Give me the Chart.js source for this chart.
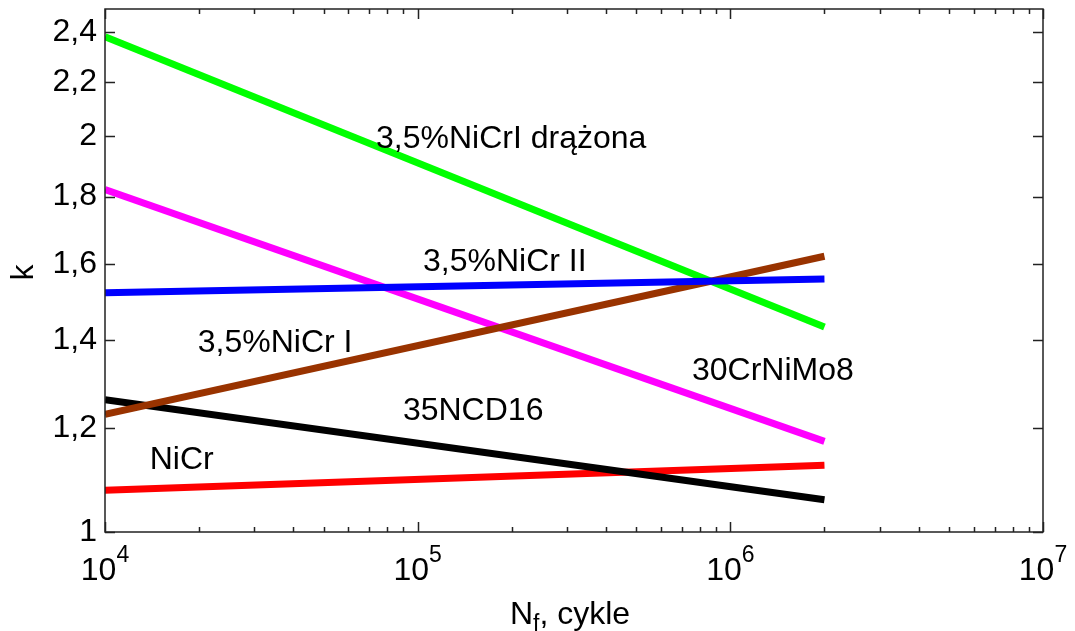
<!DOCTYPE html>
<html>
<head>
<meta charset="utf-8">
<script src="https://cdn.jsdelivr.net/npm/chart.js@4.4.1/dist/chart.umd.min.js"></script>
<style>
  body { margin: 0; background: #fff; }
  #wrap { width: 1075px; height: 631px; position: relative; }
</style>
</head>
<body>
<div id="wrap"><canvas id="wykres"></canvas></div>
<script>
// === DANE ===
// every line runs from 1e4 to 2e6 cycles (straight in log-log)
const cykle = [1e4, 2e6];
const kDrazona = [2.381, 1.432];   // zielona
const kNiCrII = [1.521, 1.558];    // niebieska
const kNiCrI = [1.822, 1.172];     // fioletowa
const k30CrNiMo8 = [1.229, 1.621]; // brazowa
const k35NCD16 = [1.261, 1.058];   // czarna
const kNiCr = [1.076, 1.124];      // czerwona

const yTicks = [1, 1.2, 1.4, 1.6, 1.8, 2, 2.2, 2.4];
const xTicks = [1e4, 1e5, 1e6, 1e7];

// podpisy na wykresie (wspolrzedne w jednostkach danych)
const podpisy = ['3,5%NiCrI drążona', '3,5%NiCr II', '3,5%NiCr I', '30CrNiMo8', '35NCD16', 'NiCr'];
const podpisyX = [7.36e4, 1.04e5, 1.98e4, 7.54e5, 8.97e4, 1.39e4];
const podpisyY = [1.961, 1.581, 1.370, 1.305, 1.216, 1.116];

const FONT = '"Liberation Sans", Arial, Helvetica, sans-serif';

function seria(vals, color) {
  return {
    data: cykle.map((c, i) => ({ x: c, y: vals[i] })),
    borderColor: color,
    backgroundColor: color,
    borderWidth: 7,
    borderCapStyle: 'butt',
    pointRadius: 0,
    tension: 0,
    clip: 0
  };
}

// === RYSOWANIE RAMKI, TICKOW I TEKSTOW ===
const rysunek = {
  id: 'rysunek',
  afterDatasetsDraw(chart) {
    const { ctx, chartArea: a, scales: { x, y } } = chart;
    ctx.save();

    // ramka
    ctx.strokeStyle = '#222';
    ctx.lineWidth = 1.5;
    ctx.strokeRect(a.left, a.top, a.right - a.left, a.bottom - a.top);

    ctx.beginPath();
    yTicks.forEach(v => {
      const py = Math.round(y.getPixelForValue(v)) + 0.5;
      ctx.moveTo(a.left, py); ctx.lineTo(a.left + 10, py);
      ctx.moveTo(a.right, py); ctx.lineTo(a.right - 10, py);
    });
    xTicks.forEach((v, i) => {
      const px = Math.round(x.getPixelForValue(v)) + 0.5;
      ctx.moveTo(px, a.bottom); ctx.lineTo(px, a.bottom - 10);
      ctx.moveTo(px, a.top); ctx.lineTo(px, a.top + 10);
      if (i < xTicks.length - 1) {
        for (let m = 2; m <= 9; m++) {
          const pm = Math.round(x.getPixelForValue(v * m)) + 0.5;
          ctx.moveTo(pm, a.bottom); ctx.lineTo(pm, a.bottom - 5);
          ctx.moveTo(pm, a.top); ctx.lineTo(pm, a.top + 5);
        }
      }
    });
    ctx.stroke();

    ctx.fillStyle = '#000';
    ctx.textBaseline = 'alphabetic';

    // etykiety osi x: 10^n
    xTicks.forEach(v => {
      const exp = String(Math.round(Math.log10(v)));
      ctx.font = '32px ' + FONT;
      const wBase = ctx.measureText('10').width;
      ctx.font = '23px ' + FONT;
      const wSup = ctx.measureText(exp).width;
      const start = x.getPixelForValue(v) - (wBase + wSup) / 2;
      ctx.textAlign = 'left';
      ctx.font = '32px ' + FONT;
      ctx.fillText('10', start, a.bottom + 48);
      ctx.font = '23px ' + FONT;
      ctx.fillText(exp, start + wBase, a.bottom + 30);
    });

    // tytul osi x: N_f, cykle
    ctx.font = '32px ' + FONT;
    const wN = ctx.measureText('N').width;
    const wRest = ctx.measureText(', cykle').width;
    ctx.font = '23px ' + FONT;
    const wF = ctx.measureText('f').width;
    let tx = (a.left + a.right) / 2 - 4 - (wN + wF + wRest) / 2;
    ctx.font = '32px ' + FONT;
    ctx.fillText('N', tx, a.bottom + 92);
    ctx.font = '23px ' + FONT;
    ctx.fillText('f', tx + wN, a.bottom + 99);
    ctx.font = '32px ' + FONT;
    ctx.fillText(', cykle', tx + wN + wF, a.bottom + 92);

    // tytul osi y
    ctx.save();
    ctx.translate(33, (a.top + a.bottom) / 2 + 2);
    ctx.rotate(-Math.PI / 2);
    ctx.textAlign = 'center';
    ctx.fillText('k', 0, 0);
    ctx.restore();

    // podpisy krzywych
    ctx.textAlign = 'left';
    ctx.font = '32px ' + FONT;
    podpisy.forEach((t, i) => {
      ctx.fillText(t, x.getPixelForValue(podpisyX[i]), y.getPixelForValue(podpisyY[i]));
    });

    ctx.restore();
  }
};

const ctx = document.getElementById('wykres').getContext('2d');
new Chart(ctx, {
  type: 'line',
  data: {
    datasets: [
      seria(kNiCrII, '#0000ff'),
      seria(k30CrNiMo8, '#993300'),
      seria(kDrazona, '#00ff00'),
      seria(kNiCrI, '#ff00ff'),
      seria(k35NCD16, '#000000'),
      seria(kNiCr, '#ff0000')
    ]
  },
  options: {
    responsive: true,
    maintainAspectRatio: false,
    animation: false,
    layout: { padding: { left: 0, top: 9, right: 32, bottom: 0 } },
    plugins: { legend: { display: false }, tooltip: { enabled: false } },
    scales: {
      x: {
        type: 'logarithmic',
        min: 1e4,
        max: 1e7,
        grid: { display: false, drawTicks: false },
        border: { display: false },
        ticks: { display: false },
        afterFit: s => { s.height = 99; s.paddingLeft = 0; s.paddingRight = 0; }
      },
      y: {
        type: 'logarithmic',
        min: 1,
        max: 2.5,
        grid: { display: false, drawTicks: false },
        border: { display: false },
        afterBuildTicks: s => { s.ticks = yTicks.map(v => ({ value: v })); },
        ticks: {
          autoSkip: false,
          padding: 8,
          color: '#000',
          font: { size: 32, family: FONT },
          callback: v => String(v).replace('.', ',')
        },
        afterFit: s => { s.width = 105; s.paddingTop = 0; s.paddingBottom = 0; }
      }
    }
  },
  plugins: [rysunek]
});
</script>
</body>
</html>
